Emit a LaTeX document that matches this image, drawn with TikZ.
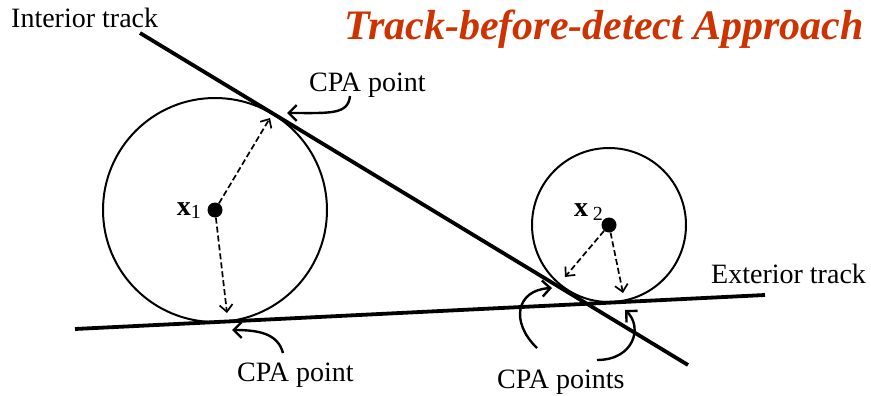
\documentclass[tikz,border=0pt]{standalone}
\usepackage{fontspec}
\setmainfont{Liberation Serif}
\usetikzlibrary{arrows.meta}
\definecolor{cTitle}{HTML}{CC3300}

\begin{document}
\begin{tikzpicture}[x=1pt,y=-1pt,
  track/.style={line width=3.8pt},
  ring/.style={line width=2pt},
  dot/.style={fill,circle,inner sep=0pt,minimum size=15pt},
  spoke/.style={-{Straight Barb[length=7pt,width=13pt]},line width=1.7pt,dash pattern=on 6pt off 3pt},
  callout/.style={-{Straight Barb[length=8pt,width=16pt]},line width=2.4pt},
  lbl/.style={font=\fontsize{28}{31}\selectfont,inner sep=0pt}]
  \useasboundingbox (0,0) rectangle (871,396);
  % tracks
  \coordinate (in-a) at (140,33);
  \coordinate (in-b) at (688,365);
  \coordinate (ex-a) at (75,329);
  \coordinate (ex-b) at (765,295);
  \draw[track] (in-a) -- (in-b);
  \draw[track] (ex-a) -- (ex-b);
  % resolution circles
  \draw[ring] (215,210) circle[radius=112];
  \draw[ring] (609,225) circle[radius=77];
  \node[dot] (x1) at (215,210) {};
  \node[dot] (x2) at (609,225) {};
  \node[lbl, anchor=base east] (x1lbl) at (201,215) {\textbf{x}\raisebox{-3pt}{\fontsize{20}{20}\selectfont 1}};
  \node[lbl, anchor=base east] (x2lbl) at (603,216) {\textbf{x}\,\raisebox{-4pt}{\fontsize{20}{20}\selectfont 2}};
  % CPA points on the circles
  \coordinate (p1a) at (270,118);
  \coordinate (p1b) at (227,313);
  \coordinate (p2a) at (565,277);
  \coordinate (p2b) at (623,293);
  \draw[spoke] (x1) -- (p1a);
  \draw[spoke] (x1) -- (p1b);
  \draw[spoke] (x2) -- (p2a);
  \draw[spoke] (x2) -- (p2b);
  % labels
  \node[lbl, anchor=base west] (intlbl) at (11,28) {Interior track};
  \node[lbl, anchor=base west] (extlbl) at (711,283) {Exterior track};
  \node[font=\fontsize{42}{46}\selectfont\bfseries\itshape, text=cTitle, inner sep=0pt, anchor=base east] (title) at (864,40) {Track-before-detect Approach};
  \node[lbl, anchor=base west] (cpa1) at (309,92) {CPA point};
  \node[lbl, anchor=base west] (cpa2) at (237,381) {CPA point};
  \node[lbl, anchor=base west] (cpa3) at (497,388) {CPA points};
  % callout arrows
  \coordinate (c1-from) at (350,96);
  \coordinate (c1-to) at (287,113);
  \coordinate (c2-from) at (283,353);
  \coordinate (c2-to) at (232,330);
  \coordinate (c3-from) at (537,348);
  \coordinate (c3-to) at (552,288);
  \coordinate (c4-from) at (597,360);
  \coordinate (c4-to) at (625,310);
  \draw[callout] (c1-from) .. controls (348,115) and (330,113) .. (c1-to);
  \draw[callout] (c2-from) .. controls (278,335) and (262,330) .. (c2-to);
  \draw[callout] (c3-from) .. controls (510,322) and (516,290) .. (c3-to);
  \draw[callout] (c4-from) .. controls (634,360) and (643,327) .. (c4-to);
\end{tikzpicture}
\end{document}
